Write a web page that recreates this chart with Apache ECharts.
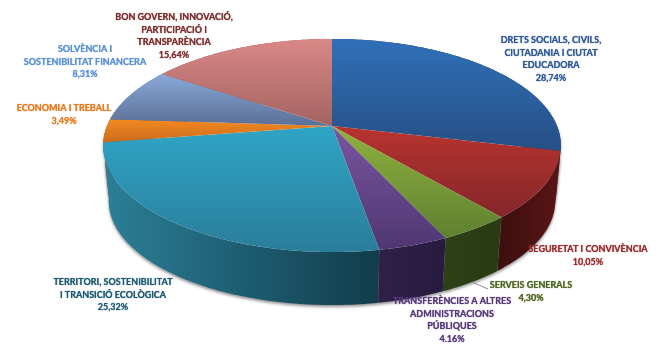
<!DOCTYPE html>
<html>
<head>
<meta charset="utf-8">
<title>Pressupost per àrees</title>
<script src="https://cdn.jsdelivr.net/npm/echarts@6/dist/echarts.min.js"></script>
<style>
    html, body { margin: 0; padding: 0; background: #fff; }
    #main { width: 670px; height: 358px; }
</style>
</head>
<body>
<div id="main"></div>
<script>
    // valors de cada area, en sentit horari des de dalt
    var categories = [
        'DRETS SOCIALS, CIVILS,\nCIUTADANIA I CIUTAT\nEDUCADORA',
        'SEGURETAT I CONVIVÈNCIA',
        'SERVEIS GENERALS',
        'TRANSFERÈNCIES A ALTRES\nADMINISTRACIONS\nPÚBLIQUES',
        'TERRITORI, SOSTENIBILITAT\nI TRANSICIÓ ECOLÒGICA',
        'ECONOMIA I TREBALL',
        'SOLVÈNCIA I\nSOSTENIBILITAT FINANCERA',
        'BON GOVERN, INNOVACIÓ,\nPARTICIPACIÓ I\nTRANSPARÈNCIA'
    ];
    var values = [28.74, 10.05, 4.30, 4.16, 25.32, 3.49, 8.31, 15.64];
    var percentLabels = ['28,74%', '10,05%', '4,30%', '4.16%', '25,32%', '3,49%', '8,31%', '15,64%'];

    // colors: dalt i baix de la cara superior, esquerra i dreta del lateral
    var topFrom = ['#3070b8', '#b8342f', '#8fb23f', '#7b55a0', '#2fa5c6', '#f58a20', '#8aa9d8', '#d98886'];
    var topTo = ['#264f85', '#83262a', '#5f8030', '#4f3672', '#2a7d9a', '#c96c1c', '#5a6f96', '#a36361'];
    var sideFrom = ['#1d3d60', '#3a0e0c', '#2e4016', '#2e2048', '#2b7f98', '#a85a14', '#4a5c80', '#8a5050'];
    var sideTo = ['#1a3552', '#5a1515', '#2a3a14', '#281b40', '#113c4b', '#a85a14', '#4a5c80', '#8a5050'];
    var textColors = ['#2f5a96', '#9a2c2c', '#4f6522', '#56397c', '#1f5c72', '#e8791c', '#5b92d4', '#7d2e2e'];

    // centre del text i y de la primera linia
    var labelX = [551, 588, 531, 452, 113, 64, 85, 174];
    var labelY = [40, 249, 285, 301, 282, 108, 49, 17];

    // disc en perspectiva: el centre no cau al mig de l'el·lipse
    var k = 0.183;
    var cx = 332;
    var topDisc = { y: 126, rx: 225, ry: 103 };
    var lowDisc = { y: 182, rx: 219.5, ry: 100.5 };

    var chart = echarts.init(document.getElementById('main'));

    function point(disc, deg) {
        var a = deg * Math.PI / 180;
        var u = Math.sin(a);
        var v = -Math.cos(a);
        var d = 1 - k * v;
        return [cx + disc.rx * u / d, disc.y + disc.ry * v / d];
    }

    function arc(disc, from, to) {
        var pts = [];
        var n = Math.max(2, Math.ceil(Math.abs(to - from)));
        for (var i = 0; i <= n; i++) {
            pts.push(point(disc, from + (to - from) * i / n));
        }
        return pts;
    }

    function angles(index) {
        var total = 0;
        var before = 0;
        for (var i = 0; i < values.length; i++) {
            total += values[i];
            if (i < index) {
                before += values[i];
            }
        }
        return [before / total * 360, (before + values[index]) / total * 360];
    }

    function gradient(x2, y2, from, to) {
        return new echarts.graphic.LinearGradient(0, 0, x2, y2, [
            { offset: 0, color: from },
            { offset: 1, color: to }
        ]);
    }

    function renderSide(params, api) {
        var i = params.dataIndex;
        var a = angles(i);
        var pts = arc(topDisc, a[0], a[1]).concat(arc(lowDisc, a[1], a[0]));
        // els trossos del fons es pinten primer
        var mid = (a[0] + a[1]) / 2 * Math.PI / 180;
        return {
            type: 'polygon',
            z2: Math.round(-100 * Math.cos(mid)),
            shape: { points: pts },
            style: {
                fill: gradient(1, 0, sideFrom[i], sideTo[i]),
                shadowBlur: 3,
                shadowColor: 'rgba(60,60,60,0.55)',
                shadowOffsetY: 2
            }
        };
    }

    function renderTop(params, api) {
        var i = params.dataIndex;
        var a = angles(i);
        var pts = [[cx, topDisc.y]].concat(arc(topDisc, a[0], a[1]));
        return {
            type: 'polygon',
            shape: { points: pts },
            style: { fill: gradient(0, 1, topFrom[i], topTo[i]) }
        };
    }

    function renderLabel(params, api) {
        var i = params.dataIndex;
        var children = [{
            type: 'text',
            x: labelX[i],
            y: labelY[i] - 6.5,
            style: {
                text: categories[i] + '\n' + percentLabels[i],
                fill: textColors[i],
                font: 'bold 9px Lato',
                lineHeight: 12.8,
                align: 'center',
                verticalAlign: 'top',
                textShadowColor: textColors[i],
                textShadowBlur: 1
            }
        }];
        // linia guia de SERVEIS GENERALS
        if (i === 2) {
            var a = angles(i);
            var p = point(lowDisc, (a[0] + a[1]) / 2);
            children.push({
                type: 'polyline',
                shape: { points: [p, [488, 289]] },
                style: { stroke: '#8a8a8a', lineWidth: 1, fill: null }
            });
        }
        return { type: 'group', children: children };
    }

    var option = {
        backgroundColor: '#ffffff',
        animation: false,
        series: [
            { type: 'custom', coordinateSystem: 'none', z: 1, data: values, renderItem: renderSide, silent: true },
            { type: 'custom', coordinateSystem: 'none', z: 2, data: values, renderItem: renderTop, silent: true },
            { type: 'custom', coordinateSystem: 'none', z: 3, data: values, renderItem: renderLabel, silent: true }
        ]
    };

    chart.setOption(option);
</script>
</body>
</html>
